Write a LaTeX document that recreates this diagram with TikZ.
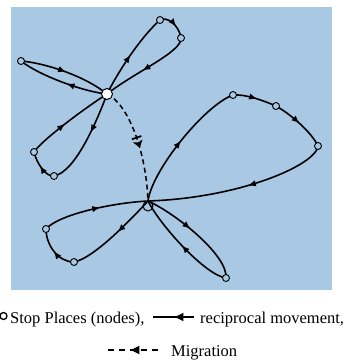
\documentclass[tikz,border=0pt]{standalone}
\usepackage{fontspec}
\setmainfont{Liberation Serif}
\usetikzlibrary{arrows.meta,decorations.markings}
\definecolor{bgblue}{RGB}{168,200,228}
\tikzset{
  mid/.style={postaction={decorate},decoration={markings,mark=at position #1 with {\arrow{Latex[length=8pt,width=6.5pt]}}}},
  route/.style={line width=1.6pt,black},
  stop/.style={circle,draw,line width=0.9pt,inner sep=0pt,minimum size=7pt,fill=bgblue},
  hub/.style={circle,draw,line width=1pt,inner sep=0pt,minimum size=11pt,fill=white},
  migr/.style={line width=1.5pt,dash pattern=on 5pt off 3.5pt},
  legtext/.style={anchor=base west,inner sep=0pt,font=\fontsize{16.5}{19}\selectfont}
}
\begin{document}
\begin{tikzpicture}[x=1pt,y=-1pt]
\useasboundingbox (0,0) rectangle (346,360);
\fill[bgblue] (11,7) rectangle (332,290);
% points
\coordinate (A) at (107,94);
\coordinate (t1) at (160,20);
\coordinate (t2) at (181,38);
\coordinate (l1) at (21,61);
\coordinate (d1) at (34,152);
\coordinate (d2) at (54,176);
\coordinate (Bj) at (148,201);
\coordinate (Bc) at (148,206);
\coordinate (r1) at (233,95);
\coordinate (r2) at (276,106);
\coordinate (r3) at (318,146);
\coordinate (s1) at (46,229);
\coordinate (s2) at (74,262);
\coordinate (u1) at (226,278);
% top loop
\draw[route,mid=0.5] (A) .. controls (118,72) and (140,38) .. (t1);
\draw[route,mid=0.6] (t1) .. controls (167,16) and (179,25) .. (t2);
\draw[route,mid=0.55] (t2) .. controls (182,52) and (135,72) .. (A);
% left loop
\draw[route,mid=0.45] (A) .. controls (85,92) and (40,76) .. (l1);
\draw[route,mid=0.5] (l1) .. controls (45,63) and (85,76) .. (A);
% lower-left loop from A
\draw[route,mid=0.42] (A) .. controls (98,118) and (76,172) .. (d2);
\draw[route,mid=0.55] (d2) .. controls (46,177) and (37,164) .. (d1);
\draw[route,mid=0.45] (d1) .. controls (42,140) and (85,108) .. (A);
% migration
\draw[migr,postaction={decorate},decoration={markings,
   mark=at position 0.455 with {\draw[solid,line width=1.8pt] (0pt,-5pt) -- (0pt,5pt);},
   mark=at position 0.51 with {\fill (4pt,0pt) -- (-3pt,-5pt) -- (-1.5pt,0pt) -- (-3pt,5pt) -- cycle;}}]
   (A) .. controls (128,104) and (146,150) .. (Bj);
% big right loop
\draw[route,mid=0.5] (Bj) .. controls (152,170) and (205,105) .. (r1);
\draw[route,mid=0.55] (r1) .. controls (245,94) and (262,100) .. (r2);
\draw[route,mid=0.5] (r2) .. controls (292,115) and (312,133) .. (r3);
\draw[route,mid=0.45] (r3) .. controls (316,165) and (240,198) .. (Bj);
% lower-left loop from B
\draw[route,mid=0.55] (s1) .. controls (58,215) and (110,203) .. (Bj);
\draw[route,mid=0.45] (Bj) .. controls (135,215) and (95,258) .. (s2);
\draw[route,mid=0.5] (s2) .. controls (58,262) and (46,245) .. (s1);
% lower-right loop from B
\draw[route,mid=0.45] (Bj) .. controls (175,213) and (228,255) .. (u1);
\draw[route,mid=0.5] (u1) .. controls (205,275) and (160,225) .. (Bj);
% stop nodes
\node[hub] (Ahub) at (A) {};
\node[circle,draw,line width=1pt,inner sep=0pt,minimum size=10pt] (Bhub) at (Bc) {};
\node[stop] (nt1) at (t1) {};
\node[stop] (nt2) at (t2) {};
\node[stop] (nl1) at (l1) {};
\node[stop] (nd1) at (d1) {};
\node[stop] (nd2) at (d2) {};
\node[stop] (nr1) at (r1) {};
\node[stop] (nr2) at (r2) {};
\node[stop] (nr3) at (r3) {};
\node[stop] (ns1) at (s1) {};
\node[stop] (ns2) at (s2) {};
\node[stop] (nu1) at (u1) {};
% legend
\node[circle,draw,line width=1.3pt,inner sep=0pt,minimum size=7pt] (legc) at (3.5,316) {};
\node[legtext] (leg1) at (10,323) {Stop Places (nodes),};
\coordinate (lr1) at (153,317);
\coordinate (lr2) at (194,317);
\draw[route,postaction={decorate},decoration={markings,mark=at position 0.5 with {\arrow{Latex[length=10pt,width=9pt]}}}] (lr2) -- (lr1);
\node[legtext] (leg2) at (200,323) {reciprocal movement,};
\coordinate (lm1) at (106,350);
\coordinate (lm2) at (158,350);
\draw[line width=1.5pt,dash pattern=on 6pt off 5pt,postaction={decorate},decoration={markings,mark=at position 0.55 with {\arrow{Latex[length=10pt,width=9pt]}}}] (lm2) -- (lm1);
\node[legtext] (leg3) at (171,356) {Migration};
\end{tikzpicture}
\end{document}
